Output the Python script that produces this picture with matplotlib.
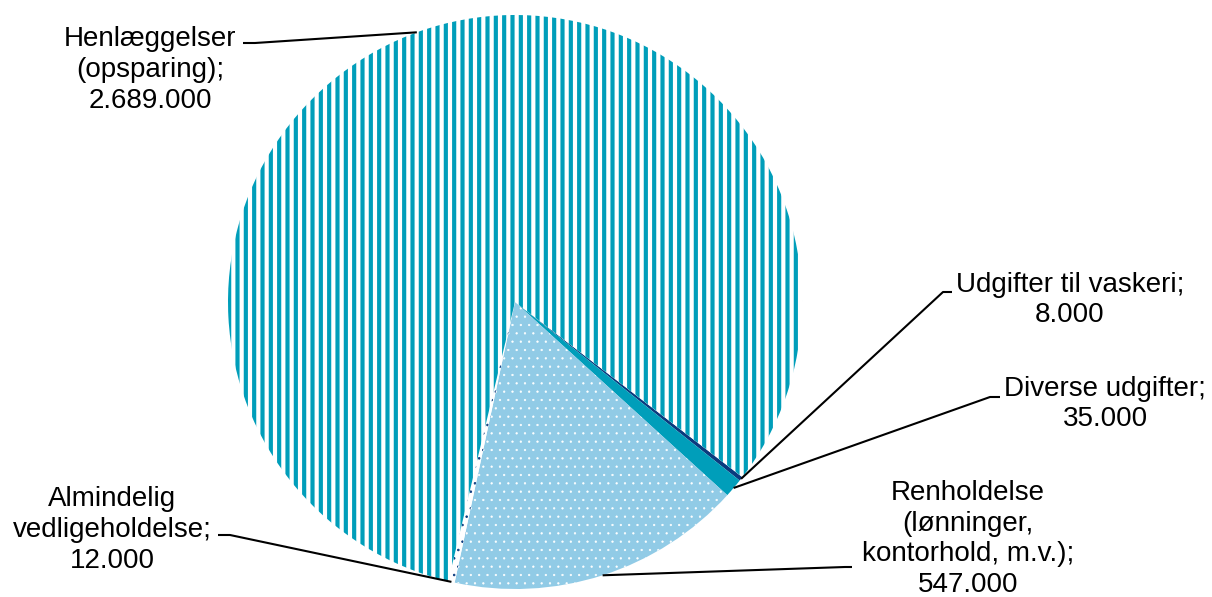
import numpy as np
import matplotlib
matplotlib.use('Agg')
import matplotlib.pyplot as plt

# data (order: clockwise starting at the lower right)
names = ['Udgifter til vaskeri;\n8.000',
         'Diverse udgifter;\n35.000',
         'Renholdelse\n(lønninger,\nkontorhold, m.v.);\n547.000',
         'Almindelig\nvedligeholdelse;\n12.000',
         'Henlæggelser\n(opsparing);\n2.689.000']
values = [8000, 35000, 547000, 12000, 2689000]

teal = '#009EBA'
navy = '#0B3A7E'
light = '#91CBE6'

face_cols = [navy, teal, light, 'white', 'white']
hatch_cols = [navy, teal, 'white', navy, teal]
hatches = [None, None, '..', '..', '||']
hatch_lw = [1.0, 1.0, 0.4, 0.6, 3.0]

matplotlib.rcParams['font.family'] = ['Liberation Sans', 'DejaVu Sans']
matplotlib.rcParams['font.size'] = 20
matplotlib.rcParams['hatch.linewidth'] = 3.0

W, H = 1212, 597
fig = plt.figure(figsize=(W / 100, H / 100), dpi=100)
ax = fig.add_axes([0, 0, 1, 1])

cx, cy, r = 515, H - 302, 287
wedges, _ = ax.pie(values, center=(cx, cy), radius=r, startangle=-37.6,
                   counterclock=False, colors=face_cols,
                   wedgeprops=dict(linewidth=0), frame=True)
ax.set_xlim(0, W)
ax.set_ylim(0, H)
ax.set_aspect('equal')
ax.axis('off')

for w, h, hc, lw in zip(wedges, hatches, hatch_cols, hatch_lw):
    w.set_edgecolor(hc)
    w.set_linewidth(0)
    if h:
        w.set_hatch(h)
        if hasattr(w, 'set_hatch_linewidth'):
            w.set_hatch_linewidth(lw)
        if hasattr(w, 'set_hatchcolor'):
            w.set_hatchcolor(hc)

# label layout (image pixel coords: text centre, leader start, elbow side)
label_xy = [(1070, 300), (1105, 404), (968, 539), (112, 530), (150, 70)]
leader_start = [(952, 292), (1000, 397), (852, 567), (218, 535), (243, 43)]
elbow_dx = [-9, -10, -7, 12, 12]
anchor_ang = [None, None, None, None, 110]

for i, w in enumerate(wedges):
    tx, ty = label_xy[i]
    ax.text(tx, H - ty, names[i], ha='center', va='center',
            multialignment='center', linespacing=1.24, color='black')
    ang = anchor_ang[i]
    if ang is None:
        ang = (w.theta1 + w.theta2) / 2
    ax_ = cx + r * np.cos(np.radians(ang))
    ay_ = cy + r * np.sin(np.radians(ang))
    sx, sy = leader_start[i]
    ax.plot([sx, sx + elbow_dx[i], ax_], [H - sy, H - sy, ay_],
            color='black', lw=1.5, solid_capstyle='butt')

fig.savefig('out.png', dpi=100)
